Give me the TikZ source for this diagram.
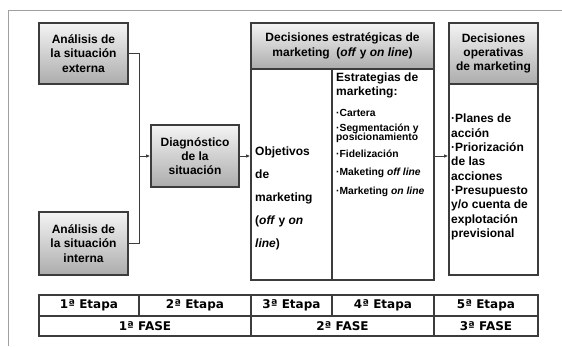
\documentclass[tikz,border=0pt]{standalone}
\usepackage{fontspec}
\setmainfont{Liberation Sans}
\newfontfamily\tabfont{DejaVu Sans}
\usetikzlibrary{arrows.meta,calc}
\definecolor{edge}{HTML}{3C3C3C}
\definecolor{lite}{HTML}{F4F4F4}
\definecolor{dark}{HTML}{ACACAC}
\definecolor{frame}{HTML}{A0A0A0}
\tikzset{
  gbox/.style={draw=edge, line width=1.6pt, top color=lite, bottom color=dark, inner sep=0pt,
    font=\fontsize{12}{14.3}\selectfont\bfseries, align=center, text=black},
  wbox/.style={draw=edge, line width=1.6pt, fill=white, inner sep=0pt},
  cell/.style={draw=edge, line width=1.3pt, fill=white, inner sep=0pt,
    font=\tabfont\fontsize{12}{14}\selectfont\bfseries},
  conn/.style={draw=edge, line width=0.8pt},
  arr/.style={conn, -{Latex[length=4pt,width=3.5pt]}},
  txt/.style={inner sep=0pt, anchor=north west, align=left, text=black},
  small/.style={inner sep=0pt, anchor=base west, align=left, text=black, font=\fontsize{10.3}{9.3}\selectfont\bfseries}
}
\begin{document}
\begin{tikzpicture}[x=1pt,y=-1pt]
\useasboundingbox (0,0) rectangle (562,346);
\fill[white] (0,0) rectangle (562,346);
% outer frame (partially visible)
\draw[frame, line width=1pt] (8,346) -- (8,10) -- (562,10);

% left boxes
\node[gbox, minimum width=89pt, minimum height=61pt] (ext) at (83.5,53.5) {Análisis de\\la situación\\externa};
\node[gbox, minimum width=89pt, minimum height=63pt] (int) at (83.5,243.5) {Análisis de\\la situación\\interna};
\node[gbox, minimum width=88pt, minimum height=62pt] (diag) at (195,156) {Diagnóstico\\de la\\situación};

% strategic block
\node[gbox, minimum width=183pt, minimum height=46pt] (sthead) at (342.5,46) {Decisiones estratégicas de\\marketing\ \ (\textit{off} y \textit{on line})};
\node[wbox, minimum width=183pt, minimum height=211pt] (stbody) at (342.5,174.5) {};
\coordinate (divtop) at (332,69);
\coordinate (divbot) at (332,280);
\draw[edge, line width=1.3pt] (divtop) -- (divbot);

% operative block
\node[wbox, minimum width=89pt, minimum height=191pt] (opbody) at (493.5,179.5) {};
\node[gbox, minimum width=89pt, minimum height=61pt] (ophead) at (493.5,53.5) {Decisiones\\operativas\\de marketing};

% texts in strategic block
\node[txt, font=\fontsize{12}{23}\selectfont\bfseries] (obj) at (255,147) {Objetivos\\de\\marketing\\(\textit{off} y \textit{on}\\\textit{line})};
\node[txt, font=\fontsize{12}{13.5}\selectfont\bfseries] (esthead) at (336,73) {Estrategias de\\marketing:};
\node[small] (l1) at (336,116) {·Cartera};
\node[small] (l2) at (336,131) {·Segmentación y};
\node[small] (l2b) at (336,140) {posicionamiento};
\node[small] (l3) at (336,157) {·Fidelización};
\node[small] (l4) at (336,175) {·Maketing \textit{off line}};
\node[small] (l5) at (336,194) {·Marketing \textit{on line}};

% texts in operative block
\node[txt, font=\fontsize{12}{14.3}\selectfont\bfseries] (optext) at (451,114) {·Planes de\\acción\\·Priorización\\de las\\acciones\\·Presupuesto\\y/o cuenta de\\explotación\\previsional};

% connectors
\coordinate (jx) at (139,156);
\draw[conn] (ext.east) -- (ext.east -| jx) -- (int.east -| jx) -- (int.east);
\draw[arr] (jx) -- (diag.west);
\draw[arr] (diag.east) -- (diag.east -| stbody.west);
\draw[arr] (diag.east -| stbody.east) -- (diag.east -| opbody.west);

% table
\node[cell, minimum width=100pt, minimum height=21pt] (e1) at (89,305.5) {1ª Etapa};
\node[cell, minimum width=112pt, minimum height=21pt] (e2) at (195,305.5) {2ª Etapa};
\node[cell, minimum width=81pt, minimum height=21pt] (e3) at (291.5,305.5) {3ª Etapa};
\node[cell, minimum width=102pt, minimum height=21pt] (e4) at (383,305.5) {4ª Etapa};
\node[cell, minimum width=104pt, minimum height=21pt] (e5) at (486,305.5) {5ª Etapa};
\node[cell, minimum width=212pt, minimum height=20pt] (f1) at (145,326) {1ª FASE};
\node[cell, minimum width=183pt, minimum height=20pt] (f2) at (342.5,326) {2ª FASE};
\node[cell, minimum width=104pt, minimum height=20pt] (f3) at (486,326) {3ª FASE};
\end{tikzpicture}
\end{document}
